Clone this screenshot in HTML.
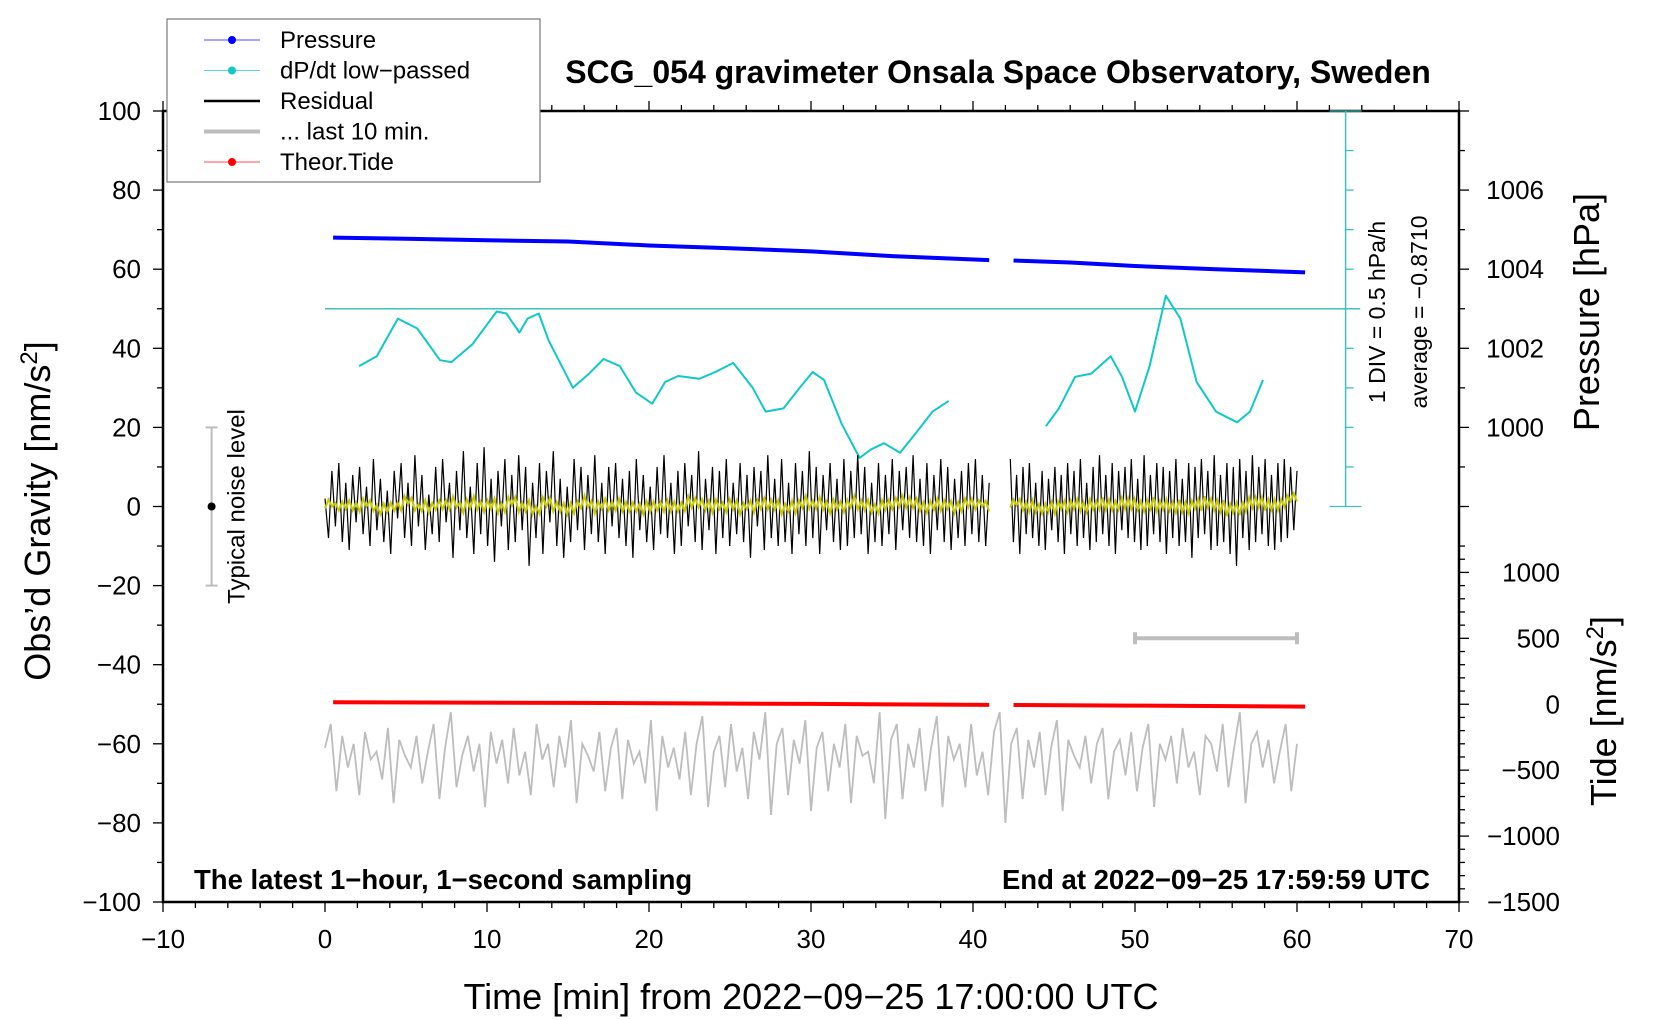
<!DOCTYPE html>
<html><head><meta charset="utf-8"><style>
html,body{margin:0;padding:0;background:#fff;}
svg{display:block;font-family:"Liberation Sans",sans-serif;}
</style></head><body>
<svg id="chart" width="1660" height="1020" viewBox="0 0 1660 1020" xmlns="http://www.w3.org/2000/svg">
<g id="layer"></g>
</svg>
<script>
// ---- data ----
const pressTimes = [0.5, 5, 10, 15, 20, 25, 30, 35, 41, 42.5, 46, 50, 55, 60.5];
const pressVals  = [1004.80,1004.77,1004.73,1004.70,1004.60,1004.53,1004.45,1004.33,1004.23,1004.22,1004.17,1004.08,1004.00,1003.92];
const dpdt1Times = [2.1,3.2,4.5,5.7,7.1,7.8,9.1,10.6,11.2,12,12.5,13.2,13.8,15.3,16.3,17.2,18.2,19.2,20.2,21,21.8,23.1,24.1,25.2,26.4,27.2,28.3,29.3,30.1,30.8,31.9,33,33.7,34.5,35.5,36.5,37.5,38.5];
const dpdt1Vals  = [35.5,38,47.5,45,37,36.5,41,49.3,48.8,44,47.5,48.8,42,30,33.6,37.3,35.5,28.8,26,31.5,33,32.3,34,36.3,30,24,24.8,30,34,32,20.8,12.3,14.4,16,13.6,18.7,24,26.7];
const dpdt2Times = [44.5,45.3,46.3,47.3,48.5,49.2,50,50.9,51.9,52.8,53.8,55,56.3,57.1,57.9];
const dpdt2Vals  = [20.3,24.8,32.8,33.6,38,32.8,24,35.5,53.3,47.5,31.5,24,21.3,24,32];
const res1 = [2,-8,9,-5,11,-9,6,-11,8,-4,10,-7,5,-10,12,-6,7,-9,4,-12,9,-3,11,-8,6,-10,13,-5,8,-11,3,-7,10,-9,12,-4,6,-13,9,-6,14,-8,5,-12,11,-7,15,-10,7,-14,9,-5,12,-11,8,-9,13,-6,10,-15,6,-8,11,-12,9,-4,14,-10,7,-13,5,-9,12,-6,10,-11,8,-7,13,-9,6,-12,10,-5,11,-8,7,-10,9,-13,12,-6,8,-9,5,-11,10,-7,13,-8,6,-12,9,-10,11,-5,8,-9,14,-11,7,-6,10,-12,9,-8,12,-10,6,-7,11,-9,8,-13,10,-5,9,-11,13,-8,7,-10,12,-9,6,-12,11,-7,9,-10,14,-8,10,-12,8,-6,11,-9,7,-11,12,-10,9,-8,13,-7,10,-12,6,-9,11,-10,8,-7,12,-11,9,-6,10,-8,13,-9,7,-10,11,-12,8,-6,12,-9,10,-11,7,-8,9,-10,11,-7,12,-9,8,-10,6];
const res2 = [12,-9,8,-12,10,-7,11,-8,6,-10,9,-11,7,-6,10,-9,8,-12,11,-7,9,-10,12,-8,6,-11,10,-9,13,-7,8,-10,11,-12,9,-6,10,-8,12,-9,7,-11,13,-10,8,-7,11,-9,10,-12,9,-8,12,-10,7,-9,11,-13,10,-8,12,-7,9,-11,13,-10,8,-9,11,-12,10,-15,12,-8,9,-11,13,-9,10,-7,12,-10,8,-11,11,-9,12,-8,10,-6,9];
const grayVals = [-61,-55,-72,-58,-66,-60,-73,-57,-64,-62,-69,-56,-75,-59,-63,-66,-58,-70,-62,-55,-74,-61,-52,-71,-63,-58,-67,-60,-76,-57,-65,-59,-70,-56,-68,-62,-73,-55,-64,-60,-71,-58,-66,-54,-75,-60,-63,-67,-57,-72,-61,-56,-74,-59,-65,-62,-70,-54,-77,-58,-66,-61,-69,-57,-73,-60,-53,-76,-62,-58,-71,-55,-67,-61,-74,-57,-64,-52,-78,-60,-56,-73,-59,-65,-54,-77,-61,-57,-72,-60,-66,-55,-75,-58,-63,-62,-70,-52,-79,-59,-55,-74,-60,-66,-56,-72,-61,-53,-76,-58,-64,-60,-71,-55,-68,-62,-73,-57,-52,-80,-60,-56,-74,-59,-66,-57,-73,-61,-54,-77,-59,-63,-66,-58,-70,-60,-56,-74,-62,-59,-68,-57,-72,-61,-55,-76,-60,-64,-58,-70,-56,-66,-62,-73,-58,-60,-67,-55,-71,-61,-52,-75,-60,-57,-66,-59,-70,-62,-55,-72,-60];
const tideTimes = [0.5, 15, 30, 41, 42.5, 50, 60.5];
const tideVals  = [15, 10, 3, -5, -6, -10, -18];
const xTicks = [-10,0,10,20,30,40,50,60,70];
const yTicks = [100,80,60,40,20,0,-20,-40,-60,-80,-100];
const pTicks = [1006,1004,1002,1000];
const tTicks = [1000,500,0,-500,-1000,-1500];

// ---- scales ----
const X0=163, X1=1459, Y0=111, Y1=902;
const sx = t => X0 + (t+10)/80*(X1-X0);
const sy = g => Y0 + (100-g)/200*(Y1-Y0);
const pY = p => sy(20 + (p-1000)*10);
const tY = n => sy(-50 + n/30);
const NS='http://www.w3.org/2000/svg';
const layer=document.getElementById('layer');
function mk(tag, attrs, parent){const e=document.createElementNS(NS,tag);for(const k in attrs)e.setAttribute(k,attrs[k]);(parent||layer).appendChild(e);return e;}
function txt(s, attrs){const e=mk('text',attrs);e.textContent=s;return e;}
function pts(ts, vs, f){return ts.map((t,i)=>sx(t).toFixed(1)+','+f(vs[i]).toFixed(1)).join(' ');}
function lin(a,b,n){const r=[];for(let i=0;i<n;i++)r.push(a+(b-a)*i/(n-1));return r;}

// frame
let e=mk('rect',{x:X0,y:Y0,width:X1-X0,height:Y1-Y0,fill:'none',stroke:'#000','stroke-width':2.5});



// x ticks
for(let t=-10;t<=70;t+=2){const maj=t%10===0;
 mk('line',{x1:sx(t),x2:sx(t),y1:Y1,y2:Y1+(maj?10:6),stroke:'#000','stroke-width':1.3});
 mk('line',{x1:sx(t),x2:sx(t),y1:Y0,y2:Y0-(maj?10:6),stroke:'#000','stroke-width':1.3});}
xTicks.forEach(t=>{const l=txt(String(t).replace('-','\u2212'),{x:sx(t),y:948,'font-size':26,'text-anchor':'middle'});
 
 });
// left y ticks
for(let g=-100;g<=100;g+=10){const maj=g%20===0;
 mk('line',{x1:X0,x2:X0-(maj?10:6),y1:sy(g),y2:sy(g),stroke:'#000','stroke-width':1.3});}
yTicks.forEach(g=>{const l=txt(String(g).replace('-','\u2212'),{x:141,y:sy(g)+9,'font-size':26,'text-anchor':'end'});
 
 });
// right pressure ticks
for(let p=998;p<=1008;p+=1){const maj=p%2===0;
 mk('line',{x1:X1,x2:X1+(maj?10:6),y1:pY(p),y2:pY(p),stroke:'#000','stroke-width':1.3});}
pTicks.forEach(p=>{const l=txt(String(p),{x:1544,y:pY(p)+9,'font-size':26,'text-anchor':'end'});
 
 });
// right tide ticks
for(let n=-1500;n<=1200;n+=100){const maj=n%500===0;
 mk('line',{x1:X1,x2:X1+(maj?10:6),y1:tY(n),y2:tY(n),stroke:'#000','stroke-width':1.3});}
tTicks.forEach(n=>{const l=txt(String(n).replace('-','\u2212'),{x:1560,y:tY(n)+9,'font-size':26,'text-anchor':'end'});
 
 });

// dP/dt scale bar
const cy='#3cc0c0';
mk('line',{x1:sx(63),x2:sx(63),y1:sy(100),y2:sy(0),stroke:cy,'stroke-width':1.5});
for(let g=0;g<=100;g+=10){const w=(g===0||g===100)?16:8;mk('line',{x1:sx(63),x2:sx(63)+w,y1:sy(g),y2:sy(g),stroke:cy,'stroke-width':1.3});
 if(g===0||g===100) mk('line',{x1:sx(63)-16,x2:sx(63),y1:sy(g),y2:sy(g),stroke:cy,'stroke-width':1.3});}
e=mk('line',{x1:sx(0),x2:sx(63.9),y1:sy(50),y2:sy(50),stroke:cy,'stroke-width':1.5});



// pressure
e=mk('polyline',{points:pts(pressTimes.slice(0,9),pressVals.slice(0,9),pY),fill:'none',stroke:'#0000ff','stroke-width':4});


e=mk('polyline',{points:pts(pressTimes.slice(9),pressVals.slice(9),pY),fill:'none',stroke:'#0000ff','stroke-width':4});



// dpdt
e=mk('polyline',{points:pts(dpdt1Times,dpdt1Vals,sy),fill:'none',stroke:'#10c8c8','stroke-width':2,'stroke-linejoin':'round'});


e=mk('polyline',{points:pts(dpdt2Times,dpdt2Vals,sy),fill:'none',stroke:'#10c8c8','stroke-width':2,'stroke-linejoin':'round'});



// residual
function smooth(a){return a.map((v,i)=>{let s=0,c=0;for(let k=-3;k<=3;k++){if(a[i+k]!==undefined){s+=a[i+k];c++;}}return s/c;});}
const r1t=lin(0,41,res1.length), r2t=lin(42.3,60,res2.length);
e=mk('polyline',{points:pts(r1t,res1,sy),fill:'none',stroke:'#000','stroke-width':1.2});


e=mk('polyline',{points:pts(r2t,res2,sy),fill:'none',stroke:'#000','stroke-width':1.2});


e=mk('polyline',{points:pts(r1t,smooth(res1),sy),fill:'none',stroke:'#c8c800','stroke-width':2});


e=mk('polyline',{points:pts(r2t,smooth(res2),sy),fill:'none',stroke:'#c8c800','stroke-width':2});



// gray last 10 min
e=mk('polyline',{points:pts(lin(0,60,grayVals.length),grayVals,sy),fill:'none',stroke:'#bdbdbd','stroke-width':1.8});


// 10 min bar
e=mk('g',{stroke:'#bdbdbd','stroke-width':4});


mk('line',{x1:sx(50),x2:sx(60),y1:sy(-33.3),y2:sy(-33.3)},e);
mk('line',{x1:sx(50),x2:sx(50),y1:sy(-33.3)-6,y2:sy(-33.3)+6},e);
mk('line',{x1:sx(60),x2:sx(60),y1:sy(-33.3)-6,y2:sy(-33.3)+6},e);

// tide
e=mk('polyline',{points:pts(tideTimes.slice(0,4),tideVals.slice(0,4),tY),fill:'none',stroke:'#ff0000','stroke-width':4});


e=mk('polyline',{points:pts(tideTimes.slice(4),tideVals.slice(4),tY),fill:'none',stroke:'#ff0000','stroke-width':4});



// noise level
e=mk('g',{stroke:'#bdbdbd','stroke-width':2});


mk('line',{x1:sx(-7),x2:sx(-7),y1:sy(20),y2:sy(-20)},e);
mk('line',{x1:sx(-7)-6,x2:sx(-7)+6,y1:sy(20),y2:sy(20)},e);
mk('line',{x1:sx(-7)-6,x2:sx(-7)+6,y1:sy(-20),y2:sy(-20)},e);
mk('circle',{cx:sx(-7),cy:sy(0),r:4,fill:'#000'});
e=txt('Typical noise level',{x:0,y:0,'font-size':24,'text-anchor':'middle',transform:`translate(${sx(-7)+33},${sy(0)}) rotate(-90)`});



// texts
e=txt('SCG_054 gravimeter Onsala Space Observatory, Sweden',{x:998,y:83,'font-size':32,'font-weight':'bold','text-anchor':'middle'});


e=txt('The latest 1-hour, 1-second sampling'.replace(/-/g,'\u2212'),{x:194,y:889,'font-size':27.5,'font-weight':'bold'});


e=txt('End at 2022\u221209\u221225 17:59:59 UTC',{x:1430,y:889,'font-size':27.5,'font-weight':'bold','text-anchor':'end'});


e=txt('Time [min] from 2022\u221209\u221225 17:00:00 UTC',{x:811,y:1009,'font-size':36,'text-anchor':'middle'});


e=mk('text',{x:0,y:0,'font-size':36,'text-anchor':'middle',transform:'translate(50,511) rotate(-90)'});
e.innerHTML='Obs\u2019d Gravity [nm/s<tspan dy="-13" font-size="24">2</tspan><tspan dy="13">]</tspan>';


e=txt('Pressure [hPa]',{x:0,y:0,'font-size':36,'text-anchor':'middle',transform:'translate(1599,312) rotate(-90)'});


e=mk('text',{x:0,y:0,'font-size':36,'text-anchor':'middle',transform:'translate(1616,711) rotate(-90)'});
e.innerHTML='Tide [nm/s<tspan dy="-13" font-size="24">2</tspan><tspan dy="13">]</tspan>';


e=txt('1 DIV = 0.5 hPa/h',{x:0,y:0,'font-size':23,'text-anchor':'middle',transform:'translate(1385,312) rotate(-90)'});


e=txt('average = \u22120.8710',{x:0,y:0,'font-size':23,'text-anchor':'middle',transform:'translate(1427,312) rotate(-90)'});



// legend
const lg=mk('g',{});


mk('rect',{x:167,y:19,width:373,height:163,fill:'#fff',stroke:'#777','stroke-width':1.2},lg);
const legNames=['Pressure','dP/dt low\u2212passed','Residual','... last 10 min.','Theor.Tide'];
const legCols=['#0000ff','#10c8c8','#000','#bdbdbd','#ff0000'];
legNames.forEach((n,i)=>{const yy=40+i*30.5;
 const g=mk('g',{},lg);
 
 
 const thick=(i===2||i===3);
 mk('line',{x1:204,x2:260,y1:yy,y2:yy,stroke:legCols[i],'stroke-width':thick?(i===3?4:2.5):1,opacity:thick?1:0.7},g);
 if(!thick) mk('circle',{cx:232,cy:yy,r:4,fill:legCols[i]},g);
 const t=mk('text',{x:280,y:yy+8,'font-size':24},g);t.textContent=n;});
</script>
</body></html>
